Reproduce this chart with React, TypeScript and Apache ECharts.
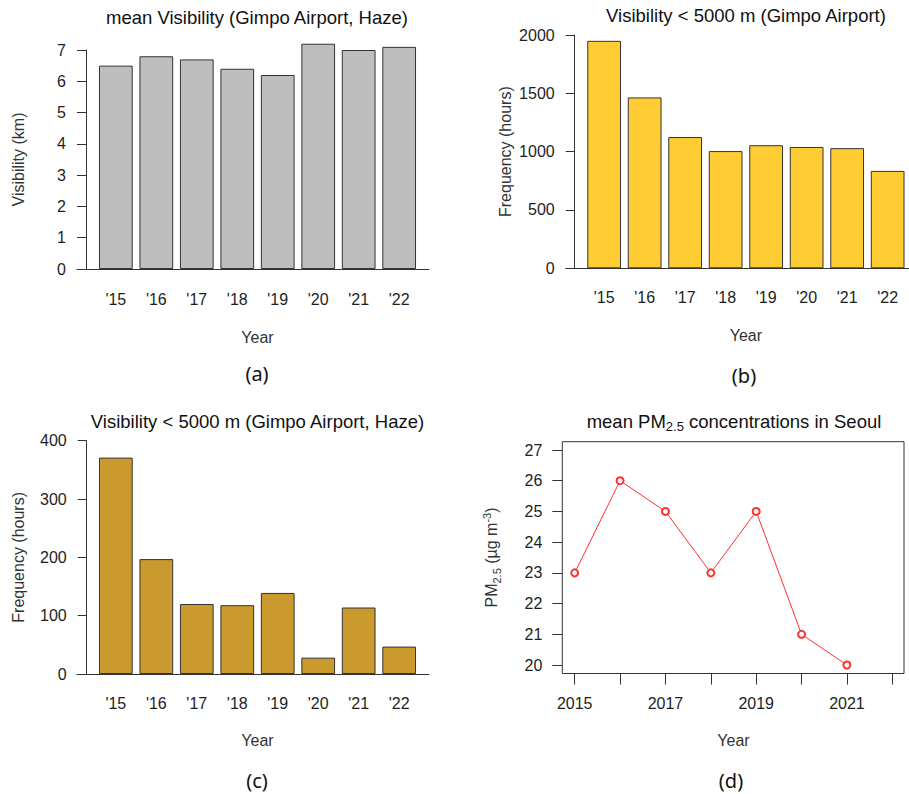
import React, { useEffect, useRef } from "react";
import * as echarts from "echarts";

const years = ["'15", "'16", "'17", "'18", "'19", "'20", "'21", "'22"];
const meanVisibility = [6.5, 6.8, 6.7, 6.4, 6.2, 7.2, 7.0, 7.1];
const freqAll = [1950, 1465, 1125, 1005, 1055, 1040, 1030, 835];
const freqHaze = [371, 197, 120, 118, 139, 28, 114, 47];
const pmYears = ["2015", "2016", "2017", "2018", "2019", "2020", "2021", "2022"];
const pmValues = [23, 26, 25, 23, 25, 21, 20];

const FONT = "'Liberation Sans', Arial, sans-serif";
const TXT = "#1e1e1e";
const AX = "#333";

function barPanel(gi: number, yMax: number, yInt: number, offset: number, yName: string, nameGapY: number, labMarginX: number, nameGapX: number) {
  const xAxis = {
    gridIndex: gi,
    type: "category",
    data: years,
    axisLine: { show: false },
    axisTick: { show: false },
    axisLabel: { color: TXT, fontFamily: FONT, fontSize: 16, margin: labMarginX },
    name: "Year",
    nameLocation: "middle",
    nameGap: nameGapX,
    nameTextStyle: { color: AX, fontFamily: FONT, fontSize: 16 },
  };
  const yAxis = {
    gridIndex: gi,
    type: "value",
    min: 0,
    max: yMax,
    interval: yInt,
    offset,
    axisLine: { show: true, onZero: false, lineStyle: { color: AX, width: 1 } },
    axisTick: { show: true, length: 9, lineStyle: { color: AX } },
    axisLabel: { color: TXT, fontFamily: FONT, fontSize: 16, margin: 20, formatter: (v: number) => String(v) },
    splitLine: { show: false },
    name: yName,
    nameLocation: "middle",
    nameRotate: 90,
    nameGap: nameGapY,
    nameTextStyle: { color: AX, fontFamily: FONT, fontSize: 16 },
  };
  return { xAxis, yAxis };
}

function baseline(gi: number) {
  return {
    xAxis: {
      gridIndex: gi,
      type: "value",
      min: 0,
      max: 1,
      axisLine: { show: true, onZero: false, lineStyle: { color: AX, width: 1 } },
      axisTick: { show: false },
      axisLabel: { show: false },
      splitLine: { show: false },
    },
    yAxis: { gridIndex: gi, type: "value", min: 0, max: 1, show: false },
  };
}

export default function App() {
  const ref = useRef<HTMLDivElement>(null);
  useEffect(() => {
    if (!ref.current) return;
    const chart = echarts.init(ref.current, null, { renderer: "svg" });
    const a = barPanel(0, 7, 1, 9.6, "Visibility (km)", 60, 22, 60);
    const b = barPanel(2, 2000, 500, 9.2, "Frequency (hours)", 61, 21.4, 58.7);
    const c = barPanel(4, 400, 100, 8.9, "Frequency (hours)", 60.7, 21, 58.7);
    const bl1 = baseline(1);
    const bl3 = baseline(3);
    const bl5 = baseline(5);

    const dBoxX = { gridIndex: 6, type: "value", show: false, min: 0, max: 1 };
    const dBoxY = { gridIndex: 6, type: "value", show: false, min: 0, max: 1 };
    const dX = {
      gridIndex: 7,
      type: "category",
      data: pmYears,
      boundaryGap: false,
      offset: 8.5,
      axisLine: { show: false },
      axisTick: { show: true, length: 11, interval: 0, lineStyle: { color: AX } },
      axisLabel: { color: TXT, fontFamily: FONT, fontSize: 16, margin: 21.5, interval: 1 },
      name: "Year",
      nameLocation: "middle",
      nameGap: 59,
      nameTextStyle: { color: AX, fontFamily: FONT, fontSize: 16 },
    };
    const dY = {
      gridIndex: 7,
      type: "value",
      min: 20,
      max: 27,
      interval: 1,
      offset: 12.4,
      axisLine: { show: false },
      axisTick: { show: true, length: 10, lineStyle: { color: AX } },
      axisLabel: { color: TXT, fontFamily: FONT, fontSize: 16, margin: 20 },
      splitLine: { show: false },
      name: "PM{sub|2.5} (µg m{sup|-3})",
      nameLocation: "middle",
      nameRotate: 90,
      nameGap: 60,
      nameTextStyle: {
        color: AX,
        fontFamily: FONT,
        fontSize: 16,
        rich: {
          sub: { fontSize: 11, fontFamily: FONT, color: AX, verticalAlign: "bottom", padding: [8, 0, 0, 0] },
          sup: { fontSize: 11, fontFamily: FONT, color: AX, verticalAlign: "top", padding: [0, 0, 10, 0] },
        },
      },
    };

    const titleStyle = { fill: "#111", font: `18.5px ${FONT}`, align: "center", verticalAlign: "middle" };
    const panelStyle = { fill: "#111", font: `20px 'Noto Sans', sans-serif`, align: "center", verticalAlign: "middle" };

    const option: any = {
      animation: false,
      backgroundColor: "#fff",
      grid: [
        { left: 95.6, top: 50, width: 323.8, height: 219 },
        { left: 77, top: 50, width: 352, height: 219 },
        { left: 583.9, top: 35, width: 324, height: 233.3 },
        { left: 565.7, top: 35, width: 343.3, height: 233.3 },
        { left: 95.6, top: 440.7, width: 323.8, height: 233.3 },
        { left: 77, top: 440.7, width: 352, height: 233.3 },
        { left: 562.3, top: 441.7, width: 341.7, height: 231.8, show: true, borderColor: AX, borderWidth: 1, backgroundColor: "transparent" },
        { left: 574.7, top: 450, width: 317.6, height: 215 },
      ],
      xAxis: [a.xAxis, bl1.xAxis, b.xAxis, bl3.xAxis, c.xAxis, bl5.xAxis, dBoxX, dX],
      yAxis: [a.yAxis, bl1.yAxis, b.yAxis, bl3.yAxis, c.yAxis, bl5.yAxis, dBoxY, dY],
      series: [
        {
          type: "bar", xAxisIndex: 0, yAxisIndex: 0, data: meanVisibility, clip: false,
          barCategoryGap: "16.67%",
          itemStyle: { color: "#BEBEBE", borderColor: AX, borderWidth: 1 },
        },
        {
          type: "bar", xAxisIndex: 2, yAxisIndex: 2, data: freqAll, clip: false,
          barCategoryGap: "16.67%",
          itemStyle: { color: "#FFCC33", borderColor: AX, borderWidth: 1 },
        },
        {
          type: "bar", xAxisIndex: 4, yAxisIndex: 4, data: freqHaze, clip: false,
          barCategoryGap: "16.67%",
          itemStyle: { color: "#CA9A2E", borderColor: AX, borderWidth: 1 },
        },
        {
          type: "line", xAxisIndex: 7, yAxisIndex: 7, data: pmValues,
          symbol: "emptyCircle", symbolSize: 7,
          lineStyle: { color: "#FF3030", width: 1 },
          itemStyle: { color: "#FF3030", borderColor: "#FF3030", borderWidth: 1 },
        },
      ],
      graphic: [
        { type: "text", x: 257, y: 17, style: { ...titleStyle, text: "mean Visibility (Gimpo Airport, Haze)" } },
        { type: "text", x: 746, y: 15, style: { ...titleStyle, text: "Visibility < 5000 m (Gimpo Airport)" } },
        { type: "text", x: 257.5, y: 421.7, style: { ...titleStyle, text: "Visibility < 5000 m (Gimpo Airport, Haze)" } },
        {
          type: "text", x: 734, y: 421.7,
          style: {
            ...titleStyle,
            text: "{t|mean PM}{s|2.5}{t| concentrations in Seoul}",
            rich: {
              t: { font: `18.5px ${FONT}`, fill: "#111" },
              s: { font: `13px ${FONT}`, fill: "#111", verticalAlign: "bottom", padding: [9, 0, 0, 0] },
            },
          },
        },
        { type: "text", x: 257, y: 373, style: { ...panelStyle, text: "(a)" } },
        { type: "text", x: 744, y: 375, style: { ...panelStyle, text: "(b)" } },
        { type: "text", x: 257, y: 780, style: { ...panelStyle, text: "(c)" } },
        { type: "text", x: 731, y: 780, style: { ...panelStyle, text: "(d)" } },
      ],
    };
    chart.setOption(option);
    return () => chart.dispose();
  }, []);
  return <div ref={ref} style={{ position: "fixed", left: 0, top: 0, width: 909, height: 794 }} />;
}
